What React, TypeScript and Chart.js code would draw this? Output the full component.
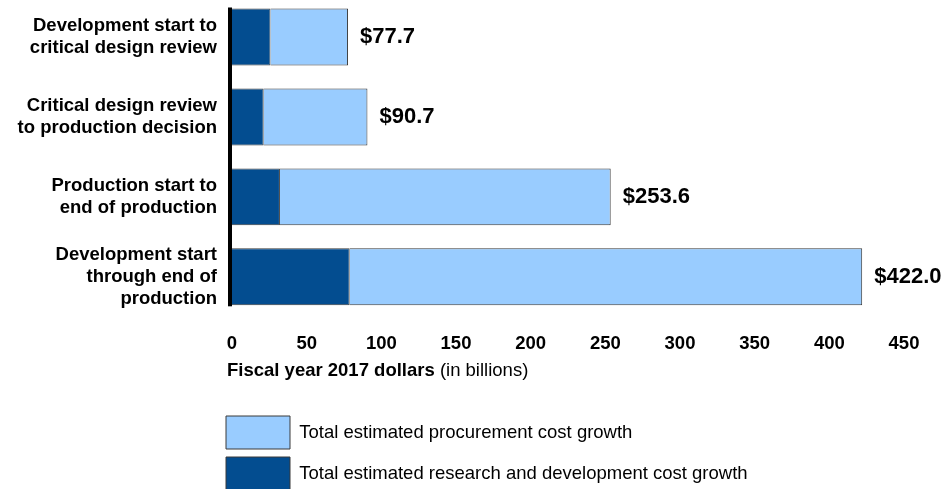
import React, { useEffect, useRef } from 'react';
import { Chart, registerables } from 'chart.js';

Chart.register(...registerables);

const FONT = '"Liberation Sans", Arial, Helvetica, sans-serif';

const CATEGORIES: string[][] = [
  ['Development start to', 'critical design review'],
  ['Critical design review', 'to production decision'],
  ['Production start to', 'end of production'],
  ['Development start', 'through end of', 'production'],
];
const RD_GROWTH = [25.8, 21.2, 32.1, 78.8];
const PROCUREMENT_GROWTH = [51.9, 69.5, 221.5, 343.2];
const TOTAL_LABELS = ['$77.7', '$90.7', '$253.6', '$422.0'];
const X_MIN = 0;
const X_MAX = 450;
const X_STEP = 50;
const AXIS_TITLE_BOLD = 'Fiscal year 2017 dollars';
const AXIS_TITLE_REGULAR = ' (in billions)';
const SERIES_NAMES = [
  'Total estimated research and development cost growth',
  'Total estimated procurement cost growth',
];

const DARK = '#034D90';
const LIGHT = '#99CCFF';
const EDGE = '#3A3A3A';
const TEXT_SIZE = 18.5;

const axisLinePlugin = {
  id: 'axisLine',
  afterDatasetsDraw(chart: any) {
    const meta = chart.getDatasetMeta(0);
    if (!meta.data.length) return;
    const first = meta.data[0].getProps(['y', 'height'], true);
    const last = meta.data[meta.data.length - 1].getProps(['y', 'height'], true);
    const top = first.y - first.height / 2 - 1;
    const bottom = last.y + last.height / 2 + 1;
    const ctx = chart.ctx;
    ctx.save();
    ctx.fillStyle = '#000000';
    ctx.fillRect(chart.chartArea.left - 4, top, 4, bottom - top);
    ctx.restore();
  },
};

const totalLabelPlugin = {
  id: 'totalLabels',
  afterDatasetsDraw(chart: any) {
    const meta = chart.getDatasetMeta(1);
    const ctx = chart.ctx;
    ctx.save();
    ctx.font = `bold 22px ${FONT}`;
    ctx.fillStyle = '#000000';
    ctx.textAlign = 'left';
    ctx.textBaseline = 'middle';
    meta.data.forEach((el: any, i: number) => {
      const p = el.getProps(['x', 'y'], true);
      ctx.fillText(TOTAL_LABELS[i], p.x + 12, p.y);
    });
    ctx.restore();
  },
};

const axisTitlePlugin = {
  id: 'axisTitleMixed',
  afterDraw(chart: any) {
    const xs = chart.scales.x;
    const ctx = chart.ctx;
    const y = xs.bottom - 26 - 10.8;
    let x = chart.chartArea.left - 5;
    ctx.save();
    ctx.fillStyle = '#000000';
    ctx.textAlign = 'left';
    ctx.textBaseline = 'middle';
    ctx.font = `bold ${TEXT_SIZE}px ${FONT}`;
    ctx.fillText(AXIS_TITLE_BOLD, x, y);
    x += ctx.measureText(AXIS_TITLE_BOLD).width;
    ctx.font = `${TEXT_SIZE}px ${FONT}`;
    ctx.fillText(AXIS_TITLE_REGULAR, x, y);
    ctx.restore();
  },
};

const legendShiftPlugin = {
  id: 'legendShift',
  afterLayout(chart: any) {
    const lg = chart.legend;
    if (!lg) return;
    const pad = lg.options.labels.padding || 0;
    const dx = 226 - (lg.left + pad);
    lg.left += dx;
    lg.right += dx;
  },
};

export default function App() {
  const ref = useRef<HTMLCanvasElement | null>(null);

  useEffect(() => {
    if (!ref.current) return;
    const chart = new Chart(ref.current, {
      type: 'bar',
      data: {
        labels: CATEGORIES,
        datasets: [
          {
            label: SERIES_NAMES[0],
            data: RD_GROWTH,
            backgroundColor: DARK,
            borderColor: EDGE,
            borderWidth: 1,
          },
          {
            label: SERIES_NAMES[1],
            data: PROCUREMENT_GROWTH,
            backgroundColor: LIGHT,
            borderColor: EDGE,
            borderWidth: 1,
          },
        ],
      },
      options: {
        indexAxis: 'y',
        animation: false,
        responsive: true,
        maintainAspectRatio: false,
        datasets: {
          bar: { categoryPercentage: 1, barPercentage: 0.7125 },
        },
        layout: { padding: { left: 0, right: 47, top: 0, bottom: 0 } },
        scales: {
          x: {
            stacked: true,
            min: X_MIN,
            max: X_MAX,
            grid: { display: false, drawTicks: false },
            border: { display: false },
            ticks: {
              stepSize: X_STEP,
              padding: 16,
              color: '#000000',
              font: { family: FONT, size: TEXT_SIZE, weight: 'bold', lineHeight: '21.6px' },
            },
            title: {
              display: true,
              text: ' ',
              font: { family: FONT, size: 18, lineHeight: '21.6px' },
              padding: { top: 0, bottom: 16 },
            },
            afterFit(scale: any) {
              scale.paddingLeft = 0;
              scale.paddingRight = 0;
            },
          },
          y: {
            stacked: true,
            grid: { display: false, drawTicks: false },
            border: { display: false },
            ticks: {
              autoSkip: false,
              padding: 15,
              color: '#000000',
              font: { family: FONT, size: TEXT_SIZE, weight: 'bold', lineHeight: '21.7px' },
            },
            afterFit(scale: any) {
              scale.width = 232;
              scale.paddingTop = 0;
              scale.paddingBottom = 0;
            },
          },
        },
        plugins: {
          legend: {
            display: true,
            position: 'bottom',
            align: 'start',
            fullSize: false,
            reverse: true,
            labels: {
              boxWidth: 64,
              boxHeight: 33,
              padding: 8,
              color: '#000000',
              font: { family: FONT, size: TEXT_SIZE },
            },
          },
          tooltip: { enabled: false },
        },
      },
      plugins: [axisLinePlugin, totalLabelPlugin, axisTitlePlugin, legendShiftPlugin],
    } as any);
    return () => chart.destroy();
  }, []);

  return (
    <div
      style={{
        position: 'fixed',
        left: 0,
        top: 0,
        width: 951,
        height: 489,
        overflow: 'hidden',
        background: '#ffffff',
      }}
    >
      <div style={{ position: 'absolute', left: 0, top: -3, width: 951, height: 503 }}>
        <canvas ref={ref} />
      </div>
    </div>
  );
}
